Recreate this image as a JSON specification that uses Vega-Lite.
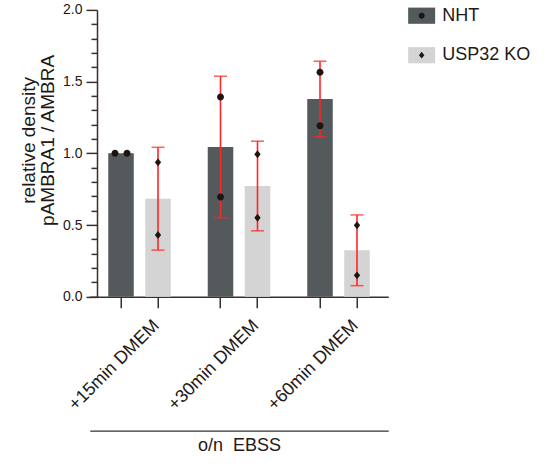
{
  "$schema": "https://vega.github.io/schema/vega-lite/v6.json",
  "autosize": {"type": "none"},
  "padding": {"left": 89.75, "top": 9.9, "right": 155.75, "bottom": 169.3},
  "width": 298.5,
  "height": 286.8,
  "config": {
    "font": "Liberation Sans",
    "view": {"stroke": null},
    "axis": {
      "grid": false,
      "domainColor": "#3a2f2b",
      "domainWidth": 1.5,
      "tickColor": "#3a2f2b",
      "tickWidth": 1.5,
      "labelColor": "#231815",
      "titleColor": "#231815",
      "titleFontWeight": "normal"
    },
    "legend": {"labelColor": "#231815"}
  },
  "data": {
    "values": [
      {"group": "+15min DMEM", "genotype": "NHT", "rep": 1, "value": 1.0},
      {"group": "+15min DMEM", "genotype": "NHT", "rep": 2, "value": 1.0},
      {"group": "+15min DMEM", "genotype": "USP32 KO", "rep": 1, "value": 0.937},
      {"group": "+15min DMEM", "genotype": "USP32 KO", "rep": 2, "value": 0.43},
      {"group": "+30min DMEM", "genotype": "NHT", "rep": 1, "value": 1.393},
      {"group": "+30min DMEM", "genotype": "NHT", "rep": 2, "value": 0.695},
      {"group": "+30min DMEM", "genotype": "USP32 KO", "rep": 1, "value": 0.993},
      {"group": "+30min DMEM", "genotype": "USP32 KO", "rep": 2, "value": 0.551},
      {"group": "+60min DMEM", "genotype": "NHT", "rep": 1, "value": 1.565},
      {"group": "+60min DMEM", "genotype": "NHT", "rep": 2, "value": 1.192},
      {"group": "+60min DMEM", "genotype": "USP32 KO", "rep": 1, "value": 0.498},
      {"group": "+60min DMEM", "genotype": "USP32 KO", "rep": 2, "value": 0.149}
    ]
  },
  "resolve": {
    "axis": {"x": "independent", "y": "independent"},
    "scale": {"shape": "independent"},
    "legend": {"shape": "independent"}
  },
  "layer": [
    {
      "mark": {"type": "bar"},
      "encoding": {
        "x": {
          "field": "group", "type": "nominal", "sort": null,
          "scale": {"paddingInner": 0, "paddingOuter": 0},
          "axis": {
            "orient": "bottom", "title": null, "bandPosition": 0.686,
            "labelAngle": -45, "labelAlign": "right", "labelBaseline": "middle",
            "labelFontSize": 18, "labelPadding": 15, "labelOffset": 17, "labelOverlap": false,
            "tickSize": 11
          }
        },
        "xOffset": {"field": "genotype", "type": "nominal", "sort": null, "scale": {"paddingInner": 0.31, "paddingOuter": 0.5}},
        "y": {
          "aggregate": "mean", "field": "value", "type": "quantitative",
          "scale": {"domain": [0, 2], "nice": false},
          "axis": {
            "orient": "left",
            "title": ["relative density", "pAMBRA1 / AMBRA"],
            "titleFontSize": 19, "titleLineHeight": 19, "titlePadding": 5, "titleY": 130,
            "offset": -7.25,
            "values": [0, 0.1, 0.2, 0.3, 0.4, 0.5, 0.6, 0.7, 0.8, 0.9, 1, 1.1, 1.2, 1.3, 1.4, 1.5, 1.6, 1.7, 1.8, 1.9, 2],
            "labelExpr": "abs(datum.value*2 - round(datum.value*2)) > 0.01 ? '' : format(datum.value, '.1f')",
            "labelFontSize": 14, "labelPadding": 4,
            "tickSize": {"condition": {"test": "abs(datum.value*2 - round(datum.value*2)) > 0.01", "value": 6}, "value": 11}
          }
        },
        "color": {
          "field": "genotype", "type": "nominal",
          "scale": {"domain": ["NHT", "USP32 KO"], "range": ["#54595b", "#d4d4d4"]},
          "legend": {
            "title": null, "orient": "none", "legendX": 318.4, "legendY": -7.7,
            "padding": 0, "symbolType": "M-1,-0.6H1V0.6H-1Z", "symbolSize": 729,
            "symbolStrokeWidth": 0, "symbolOpacity": 1, "labelFontSize": 18, "labelOffset": 7, "rowPadding": 16.5
          }
        }
      }
    },
    {
      "transform": [
        {"joinaggregate": [{"op": "stdev", "field": "value", "as": "sd"}], "groupby": ["group", "genotype"]},
        {"filter": "datum.sd > 0"}
      ],
      "mark": {"type": "errorbar", "extent": "stdev", "color": "#ff2626", "thickness": 1.6, "ticks": {"size": 13, "thickness": 1.6, "color": "#ff2626"}},
      "encoding": {
        "x": {
          "field": "group", "type": "nominal", "sort": null,
          "axis": {
            "orient": "bottom", "offset": 134, "ticks": false, "labels": false,
            "title": "o/n \u00a0EBSS", "titleFontSize": 18, "titlePadding": 6, "domainWidth": 1.2
          }
        },
        "xOffset": {"field": "genotype", "type": "nominal", "sort": null},
        "y": {"field": "value", "type": "quantitative", "axis": null}
      }
    },
    {
      "transform": [
        {"joinaggregate": [{"op": "stdev", "field": "value", "as": "sd"}], "groupby": ["group", "genotype"]},
        {"filter": "datum.sd > 0"}
      ],
      "mark": {"type": "point", "filled": true, "opacity": 1, "color": "#1e1512", "size": 1000},
      "encoding": {
        "x": {
          "field": "group", "type": "nominal", "sort": null,
          "axis": {"orient": "bottom", "bandPosition": 0.314, "labels": false, "domain": false, "title": null, "tickSize": 11}
        },
        "xOffset": {"field": "genotype", "type": "nominal", "sort": null},
        "y": {"field": "value", "type": "quantitative", "axis": null},
        "shape": {
          "field": "genotype", "type": "nominal",
          "scale": {"range": ["M-0.22,0A0.22,0.22 0 1,0 0.22,0A0.22,0.22 0 1,0 -0.22,0Z", "M0,-0.25L0.2,0L0,0.25L-0.2,0Z"]},
          "legend": {
            "title": null, "orient": "none", "legendX": 318.4, "legendY": -7.7,
            "padding": 0, "symbolSize": 729, "symbolFillColor": "#1e1512", "symbolStrokeWidth": 0,
            "labelExpr": "''", "labelFontSize": 18, "labelOffset": 7, "rowPadding": 16.5
          }
        }
      }
    },
    {
      "transform": [
        {"joinaggregate": [{"op": "stdev", "field": "value", "as": "sd"}], "groupby": ["group", "genotype"]},
        {"filter": "datum.sd === 0"}
      ],
      "mark": {"type": "point", "filled": true, "opacity": 1, "color": "#1e1512", "size": 1000},
      "encoding": {
        "x": {"field": "group", "type": "nominal", "sort": null, "axis": null},
        "xOffset": {"field": "genotype", "type": "nominal", "sort": null},
        "y": {"field": "value", "type": "quantitative", "axis": null},
        "shape": {
          "field": "rep", "type": "nominal",
          "scale": {"domain": [1, 2], "range": ["M-0.6,0A0.22,0.22 0 1,0 -0.16,0A0.22,0.22 0 1,0 -0.6,0Z", "M0.16,0A0.22,0.22 0 1,0 0.6,0A0.22,0.22 0 1,0 0.16,0Z"]},
          "legend": null
        }
      }
    }
  ]
}
